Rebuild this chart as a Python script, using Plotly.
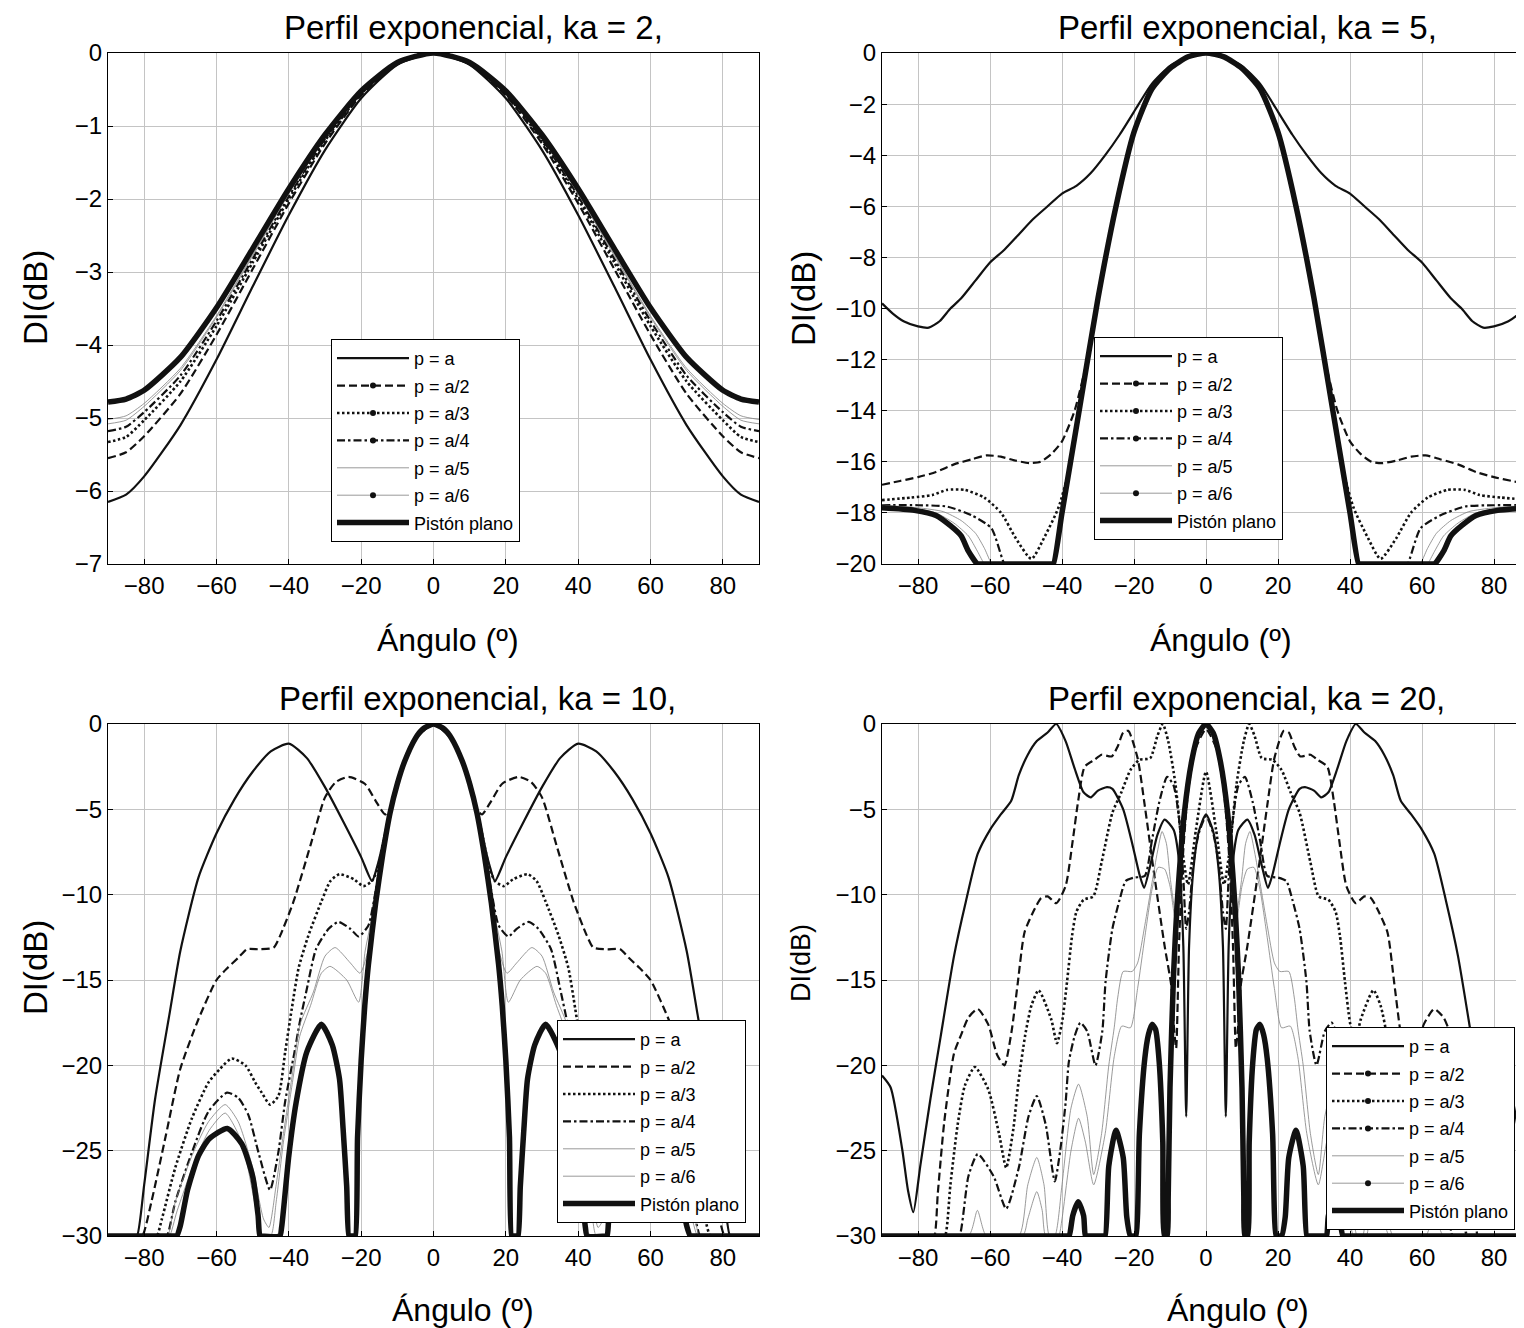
import plotly.graph_objects as go

# Directividad DI(dB) vs ángulo, perfil exponencial.
# Sólo se dan los ángulos >= 0; la otra mitad de cada curva es simétrica.

# ---------------- ka = 2 ----------------
KA2_ANG = [0, 10, 20, 30, 40, 50, 60, 70, 80, 85, 90]
KA2_PA = [0, -0.16, -0.62, -1.33, -2.22, -3.2, -4.2, -5.1, -5.8, -6.05, -6.15]
KA2_PA2 = [0, -0.15, -0.58, -1.24, -2.06, -2.96, -3.86, -4.67, -5.25, -5.47, -5.55]
KA2_PA3 = [0, -0.14, -0.56, -1.2, -2.0, -2.87, -3.74, -4.5, -5.03, -5.26, -5.33]
KA2_PA4 = [0, -0.14, -0.55, -1.18, -1.96, -2.82, -3.67, -4.42, -4.92, -5.12, -5.18]
KA2_PA5 = [0, -0.14, -0.54, -1.16, -1.93, -2.78, -3.62, -4.35, -4.84, -5.03, -5.08]
KA2_PA6 = [0, -0.13, -0.54, -1.15, -1.92, -2.76, -3.6, -4.32, -4.8, -4.97, -5.02]
KA2_PIS = [0, -0.13, -0.52, -1.12, -1.86, -2.68, -3.49, -4.17, -4.62, -4.74, -4.78]

# ---------------- ka = 5 ----------------
KA5_PA_ANG = [0, 5, 10, 15, 18.7, 20, 24, 28, 32, 36, 40, 44, 48, 52, 56, 60, 64, 68, 71, 74, 77, 80, 84, 87, 90]
KA5_PA = [0, -0.15, -0.5, -1.2, -2, -2.3, -3.2, -4, -4.7, -5.2, -5.5, -6.0, -6.5, -7.1, -7.7, -8.2, -8.9, -9.6, -10.0, -10.5, -10.75, -10.7, -10.5, -10.2, -9.8]
KA5_PA2_ANG = [0, 5, 10, 15, 20, 25, 30, 33, 36.5, 40, 43, 46, 49, 53, 57, 61, 65, 70, 75, 80, 85, 90]
KA5_PA2 = [0, -0.15, -0.6, -1.4, -3.1, -6, -9.6, -12, -14, -15.2, -15.7, -16.0, -16.05, -15.95, -15.8, -15.75, -15.9, -16.1, -16.4, -16.6, -16.75, -16.9]
KA5_PA3_ANG = [0, 5, 10, 15, 20, 25, 30, 35, 38, 41, 44.7, 48.5, 52.8, 56.9, 61.6, 67, 72, 76, 82, 90]
KA5_PA3 = [0, -0.15, -0.6, -1.4, -3.1, -6, -9.6, -13.8, -16.3, -17.8, -18.9, -19.8, -19.0, -18.0, -17.4, -17.1, -17.1, -17.3, -17.4, -17.5]
KA5_PA4_ANG = [0, 5, 10, 15, 20, 25, 30, 35, 40, 42.4, 43, 55.5, 56, 59.6, 65, 72, 80, 90]
KA5_PA4 = [0, -0.15, -0.6, -1.4, -3.1, -6, -9.6, -13.8, -18, -20, -20, -20, -20, -18.6, -18.1, -17.75, -17.7, -17.7]
KA5_PA5_ANG = [0, 5, 10, 15, 20, 25, 30, 35, 40, 42.4, 43, 59, 59.5, 61.5, 64, 68, 73, 80, 90]
KA5_PA5 = [0, -0.15, -0.6, -1.4, -3.1, -6, -9.6, -13.8, -18, -20, -20, -20, -20, -19.4, -18.8, -18.3, -17.95, -17.8, -17.7]
KA5_PA6_ANG = [0, 5, 10, 15, 20, 25, 30, 35, 40, 42.4, 43, 61, 61.5, 63.5, 66, 70, 75, 82, 90]
KA5_PA6 = [0, -0.15, -0.6, -1.4, -3.1, -6, -9.6, -13.8, -18, -20, -20, -20, -20, -19.5, -18.9, -18.4, -18.0, -17.8, -17.75]
KA5_PIS_ANG = [0, 5, 10, 15, 20, 25, 30, 35, 40, 42.4, 43, 63, 63.5, 66, 68, 71, 75, 81, 90]
KA5_PIS = [0, -0.15, -0.6, -1.4, -3.1, -6, -9.6, -13.8, -18, -20, -20, -20, -20, -19.5, -18.9, -18.5, -18.1, -17.9, -17.8]

# ---------------- ka = 10 ----------------
KA10_PA_ANG = [0, 5, 10, 12, 14, 15.5, 17, 20, 25, 30, 35, 40, 45, 50, 55, 60, 65, 70, 73, 77, 80, 82, 83, 90]
KA10_PA = [0, -0.9, -3.3, -5.0, -7.0, -8.3, -9.2, -7.8, -5.7, -3.7, -2.0, -1.15, -1.6, -2.8, -4.4, -6.4, -9.0, -13.3, -17, -22, -27, -30, -30, -30]
KA10_PA2_ANG = [0, 5, 10, 12, 13.4, 16, 19, 23.5, 27, 30, 34, 38.7, 42.4, 44.2, 48, 51.6, 54, 57, 60, 65, 70, 74, 78, 80.5, 81.5, 90]
KA10_PA2 = [0, -0.85, -3.5, -5.0, -5.3, -4.5, -3.5, -3.1, -3.4, -4.3, -7.1, -10.4, -12.4, -13.1, -13.2, -13.2, -13.7, -14.3, -15.0, -17.3, -20.2, -24.1, -28.0, -30, -30, -30]
KA10_PA3_ANG = [0, 5, 10, 12, 14, 15.5, 17, 19.4, 22, 26, 28.5, 31, 34.6, 37.3, 39.2, 41, 42.9, 45.2, 47.5, 49.3, 52, 55.8, 59, 62.2, 66.8, 71.4, 75.1, 76.5, 77.5, 90]
KA10_PA3 = [0, -0.85, -3.5, -5.1, -7.0, -8.5, -9.2, -9.5, -9.1, -8.8, -9.2, -10.4, -12.4, -14.3, -16.7, -19.2, -21.8, -22.3, -21.6, -21.0, -20.0, -19.6, -20.2, -21.0, -23.1, -26.0, -29.0, -30, -30, -30]
KA10_PA4_ANG = [0, 5, 10, 12, 14, 16, 18, 20.7, 23, 26.3, 29, 32.5, 35, 37, 38.5, 41, 42.9, 45.2, 48.4, 51.2, 54, 57.1, 62.2, 66.8, 71.4, 73.7, 74.5, 90]
KA10_PA4 = [0, -0.85, -3.5, -5.2, -7.3, -9.8, -11.8, -12.45, -12.0, -11.6, -12.0, -13.2, -15.5, -17.5, -19.3, -22.1, -25.1, -27.3, -25.1, -22.9, -21.9, -21.6, -22.7, -25.1, -28.0, -30, -30, -30]
KA10_PA5_ANG = [0, 5, 10, 12, 14, 16, 18, 20.3, 23, 27.2, 30, 33.2, 36.9, 39, 41.5, 43.5, 45.5, 47, 50, 54, 57.6, 62.2, 66.8, 71.4, 73.5, 74.5, 90]
KA10_PA5 = [0, -0.85, -3.5, -5.2, -7.5, -10.3, -13.2, -14.6, -14.0, -13.1, -13.6, -15.7, -17.6, -20.5, -24, -27, -29.5, -29, -26, -23.3, -22.3, -23.3, -25.3, -28, -30, -30, -30]
KA10_PA6_ANG = [0, 5, 10, 12, 14, 16, 18.9, 20.7, 24, 28.6, 31, 34, 37, 39, 41.5, 43.5, 45, 47.5, 49.5, 53, 57.6, 62, 66, 71, 73, 74, 90]
KA10_PA6 = [0, -0.85, -3.5, -5.2, -7.5, -10.3, -13.3, -16.3, -15.0, -14.2, -14.6, -16.5, -18.3, -21, -24.5, -28, -30, -30, -28, -24.5, -22.8, -23.8, -25.6, -28.6, -30, -30, -30]
KA10_PIS_ANG = [0, 3, 5, 8, 10, 12, 14, 16, 18, 19, 20, 21, 21.6, 22, 23, 23.4, 24, 25, 26, 28, 31, 35, 38, 40, 42, 42.5, 47.5, 48, 48.5, 50, 53, 57, 62, 65, 68, 70, 71, 71.5, 90]
KA10_PIS = [0, -0.3, -0.84, -2.2, -3.5, -5.2, -7.6, -10.5, -14.1, -16.5, -19.7, -24.2, -30, -30, -30, -30, -27.1, -23.7, -20.8, -18.8, -17.6, -19.2, -22.2, -25.3, -29.5, -30, -30, -30, -28.8, -26.5, -24.6, -23.7, -24.3, -25.3, -27.3, -29.4, -30, -30, -30]

# ---------------- ka = 20 ----------------
KA20_PA_ANG = [0, 2, 3.5, 4.7, 5.5, 6.3, 7.5, 9, 11.5, 13.5, 15.5, 17.2, 18.5, 20.5, 23, 26, 27.5, 30, 32, 34, 36.5, 39, 41.6, 44, 47, 49.5, 52, 54.1, 57, 60, 63.4, 66.7, 70, 73.7, 76.5, 79.3, 81.3, 82.8, 84.4, 87.6, 90]
KA20_PA = [-5.3, -6.3, -8.5, -13, -23, -13, -8, -6.2, -5.6, -6.5, -8.3, -9.6, -8.8, -7.0, -5.0, -3.8, -3.7, -3.9, -4.3, -4.0, -2.6, -1.0, 0, -0.5, -1.0, -1.8, -3.0, -4.5, -5.3, -6.2, -7.6, -10.4, -13.6, -18.3, -21.9, -25.8, -28.6, -27.3, -24.9, -21.3, -20.6]
KA20_PA2_ANG = [0, 3, 5, 6.5, 7.5, 8.3, 9, 9.6, 11.5, 14.2, 17, 19, 21.6, 23, 24.5, 26.2, 29, 31, 33.7, 35.5, 37, 39, 41.6, 44, 45.8, 47.5, 50.4, 52.3, 54, 56, 58, 60.5, 63.4, 66, 68, 70, 72.7, 74.5, 75.5, 76.5, 90]
KA20_PA2 = [-0.3, -1.5, -4, -8, -13, -19, -17.5, -15.4, -13, -9.1, -4.8, -2, -0.4, -0.5, -1.3, -1.9, -1.8, -2.1, -2.5, -4.5, -6.8, -9.5, -10.5, -10.1, -10.2, -10.8, -12.2, -15.2, -18, -20, -19.4, -17.6, -16.7, -17.2, -18.2, -19.3, -23.3, -27.5, -30, -30, -30]
KA20_PA3_ANG = [0, 2.8, 5, 6.5, 8.5, 10.5, 12, 13.5, 15.5, 18.5, 21, 23.5, 26, 29, 31.3, 34, 36, 37.2, 38.6, 40, 41.4, 43, 46.5, 48.5, 50.2, 52.1, 53.5, 55.5, 57.5, 60.5, 64.2, 67, 69, 71, 72.5, 73.5, 90]
KA20_PA3 = [-2.8, -6.2, -9.4, -7.5, -3.5, -1.0, 0, -0.7, -2.0, -2.1, -2.7, -4.0, -5.2, -8.1, -10.1, -10.3, -11, -12.4, -15.1, -17.5, -18.7, -17.3, -15.6, -16.5, -18.2, -21, -23.7, -26, -24, -21.4, -20.1, -21.2, -23.5, -27, -30, -30, -30]
KA20_PA4_ANG = [0, 2, 3.5, 4.7, 5.5, 6.3, 7.5, 9, 10.8, 13, 15, 17, 20, 22.3, 24, 26, 27.9, 28.8, 30.7, 33, 34.9, 36.5, 38.1, 39, 40.5, 42, 44.5, 47, 49.3, 52, 55.5, 59, 63.4, 66, 68.5, 69.5, 90]
KA20_PA4 = [-5.4, -6.4, -8.2, -11, -12, -9, -5.5, -3.6, -3.1, -4.6, -6.8, -8.9, -9.0, -9.2, -10.3, -12, -15.1, -18, -20, -18, -17.5, -18.3, -19.8, -22.2, -25, -26.8, -23.5, -21.8, -23, -26, -28.4, -26.5, -25.2, -26.5, -30, -30, -30]
KA20_PA5_ANG = [0, 4, 6, 7.5, 8.5, 9.9, 11, 12.2, 13.5, 15, 17, 19, 20.5, 23, 24.5, 25.5, 27, 29, 31.2, 33, 35.4, 37.5, 40, 42, 43.5, 45, 47, 49.5, 52, 61, 63.5, 66, 90]
KA20_PA5 = [0, -2.2, -5.2, -9, -11, -9.1, -7, -6.3, -7.5, -9.3, -11.8, -14, -14.5, -14.5, -16, -17.8, -20, -24, -26.4, -23, -21.1, -22.5, -27, -30, -30, -27, -25.4, -27, -30, -30, -28.5, -30, -30]
KA20_PA6_ANG = [0, 4, 6, 7.5, 8.5, 10, 11.5, 13.3, 15, 17, 19, 21, 23.4, 25.5, 28, 31.2, 33.5, 35.4, 37.5, 40, 41, 44.5, 45.5, 47, 49.5, 51, 90]
KA20_PA6 = [0, -2.2, -5.2, -9, -11.5, -9.5, -8.5, -8.4, -9.7, -12.5, -15.5, -17.8, -17.7, -19.5, -24, -27, -24.5, -23.1, -25, -29, -30, -30, -28.5, -27.4, -29, -30, -30]
KA20_PIS_ANG = [0, 2, 4, 6, 8, 9, 10, 10.5, 10.8, 11.5, 12, 13, 14, 15, 16, 17, 18.5, 19.5, 20, 21, 22, 23, 25, 27, 28, 28.5, 33, 33.5, 34, 35.5, 37, 38, 38.5, 90]
KA20_PIS = [0, -0.53, -2.2, -5.2, -10.5, -14.6, -21.3, -27.7, -30, -30, -24.5, -19.8, -17.9, -17.6, -18.2, -19.6, -24, -30, -30, -30, -28.9, -25.4, -23.8, -25.9, -30, -30, -30, -30, -28.8, -28.0, -28.8, -30, -30, -30]

NAMES = ["p = a", "p = a/2", "p = a/3", "p = a/4", "p = a/5", "p = a/6", "Pistón plano"]
TITLES = ["Perfil exponencial, ka = 2,", "Perfil exponencial, ka = 5,",
          "Perfil exponencial, ka = 10,", "Perfil exponencial, ka = 20,"]

FONT = "Liberation Sans, Arial, sans-serif"
W, H = 1524, 1328

LINES = [
    dict(color="#111111", width=2.2),
    dict(color="#111111", width=2.2, dash="8px,4px"),
    dict(color="#111111", width=2.6, dash="2.5px,2.5px"),
    dict(color="#111111", width=2.2, dash="8px,3px,2.5px,3px"),
    dict(color="#808080", width=0.8),
    dict(color="#808080", width=0.8),
    dict(color="#111111", width=5.5),
]
LEG_DOT = [False, True, True, True, False, True, False]


def mirror(ang, db):
    x = [-a for a in reversed(ang[1:])] + list(ang)
    y = list(reversed(db[1:])) + list(db)
    return x, y


panels = [
    dict(series=[(KA2_ANG, KA2_PA), (KA2_ANG, KA2_PA2), (KA2_ANG, KA2_PA3), (KA2_ANG, KA2_PA4),
                 (KA2_ANG, KA2_PA5), (KA2_ANG, KA2_PA6), (KA2_ANG, KA2_PIS)],
         yr=[-7, 0], dt=1, px=(100, 751), py=(45, 556), leg=(323, 331), dots=True),
    dict(series=[(KA5_PA_ANG, KA5_PA), (KA5_PA2_ANG, KA5_PA2), (KA5_PA3_ANG, KA5_PA3),
                 (KA5_PA4_ANG, KA5_PA4), (KA5_PA5_ANG, KA5_PA5), (KA5_PA6_ANG, KA5_PA6),
                 (KA5_PIS_ANG, KA5_PIS)],
         yr=[-20, 0], dt=2, px=(874, 1522), py=(45, 556), leg=(1086, 329), dots=True),
    dict(series=[(KA10_PA_ANG, KA10_PA), (KA10_PA2_ANG, KA10_PA2), (KA10_PA3_ANG, KA10_PA3),
                 (KA10_PA4_ANG, KA10_PA4), (KA10_PA5_ANG, KA10_PA5), (KA10_PA6_ANG, KA10_PA6),
                 (KA10_PIS_ANG, KA10_PIS)],
         yr=[-30, 0], dt=5, px=(100, 751), py=(716, 1228), leg=(549, 1012), dots=False),
    dict(series=[(KA20_PA_ANG, KA20_PA), (KA20_PA2_ANG, KA20_PA2), (KA20_PA3_ANG, KA20_PA3),
                 (KA20_PA4_ANG, KA20_PA4), (KA20_PA5_ANG, KA20_PA5), (KA20_PA6_ANG, KA20_PA6),
                 (KA20_PIS_ANG, KA20_PIS)],
         yr=[-30, 0], dt=5, px=(874, 1522), py=(716, 1228), leg=(1318, 1019), dots=True),
]

fig = go.Figure()
layout = dict(width=W, height=H, margin=dict(l=0, r=0, t=0, b=0),
              paper_bgcolor="white", plot_bgcolor="white",
              font=dict(family=FONT, color="black"), annotations=[])

for i, p in enumerate(panels):
    k = "" if i == 0 else str(i + 1)
    legname = "legend" + k
    for j, (ang, db) in enumerate(p["series"]):
        x, y = mirror(ang, db)
        fig.add_trace(go.Scatter(x=x, y=y, mode="lines", line=dict(LINES[j], shape="spline", smoothing=0.6),
                                 xaxis="x" + k, yaxis="y" + k, showlegend=False, hoverinfo="skip"))
    # entradas de leyenda
    for j, name in enumerate(NAMES):
        dot = p["dots"] and LEG_DOT[j]
        fig.add_trace(go.Scatter(x=[None], y=[None], mode="lines+markers" if dot else "lines",
                                 line=LINES[j], marker=dict(size=6, color="#111111"),
                                 name=name, legend=legname, legendgroup=f"g{i}{j}",
                                 xaxis="x" + k, yaxis="y" + k))
    x0, x1 = p["px"]
    y0, y1 = p["py"]
    layout["xaxis" + k] = dict(domain=[x0 / W, x1 / W], anchor="y" + k, range=[-90, 90],
                              tickvals=[-80, -60, -40, -20, 0, 20, 40, 60, 80],
                              showgrid=True, gridcolor="#c4c4c4", gridwidth=1, zeroline=False,
                              showline=True, mirror=True, linecolor="black", linewidth=1,
                              ticks="inside", ticklen=5, tickcolor="black",
                              tickfont=dict(size=24), automargin=False)
    layout["yaxis" + k] = dict(domain=[1 - y1 / H, 1 - y0 / H], anchor="x" + k, range=p["yr"],
                              dtick=p["dt"], tick0=0,
                              showgrid=True, gridcolor="#c4c4c4", gridwidth=1, zeroline=False,
                              showline=True, mirror=True, linecolor="black", linewidth=1,
                              ticks="inside", ticklen=5, tickcolor="black",
                              tickfont=dict(size=24), automargin=False)
    lx, ly = p["leg"]
    layout[legname] = dict(x=lx / W, y=1 - ly / H, xanchor="left", yanchor="top",
                           bgcolor="white", bordercolor="black", borderwidth=1,
                           font=dict(size=18), itemwidth=72, tracegroupgap=1)

# títulos y rótulos de ejes
TITLE_POS = [(465, 20), (1239, 20), (469, 690), (1238, 690)]
XLAB_POS = [(440, 632), (1213, 632), (455, 1302), (1230, 1302)]
YLAB_POS = [(27, 290), (795, 290), (27, 960), (793, 955)]
YLAB_SIZE = [33, 33, 33, 27]
for i in range(4):
    tx, ty = TITLE_POS[i]
    layout["annotations"].append(dict(text=TITLES[i], x=tx / W, y=1 - ty / H, xref="paper", yref="paper",
                                      showarrow=False, font=dict(size=33), xanchor="center", yanchor="middle"))
    ax, ay = XLAB_POS[i]
    layout["annotations"].append(dict(text="Ángulo (º)", x=ax / W, y=1 - ay / H, xref="paper", yref="paper",
                                      showarrow=False, font=dict(size=32), xanchor="center", yanchor="middle"))
    bx, by = YLAB_POS[i]
    layout["annotations"].append(dict(text="DI(dB)", x=bx / W, y=1 - by / H, xref="paper", yref="paper",
                                      showarrow=False, textangle=-90, font=dict(size=YLAB_SIZE[i]),
                                      xanchor="center", yanchor="middle"))

fig.update_layout(**layout)
fig.write_html("out.html")
